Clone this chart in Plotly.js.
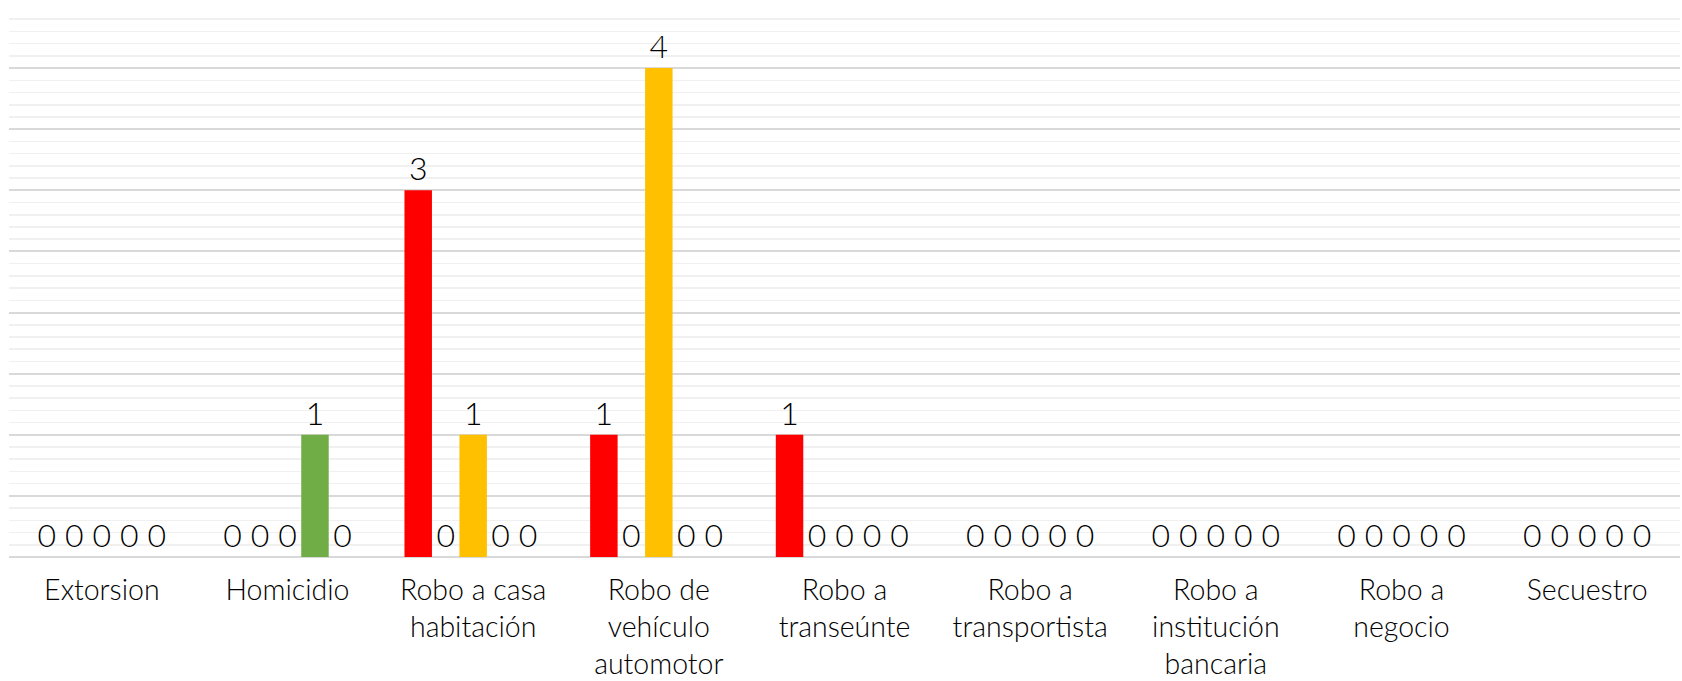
<!DOCTYPE html>
<html><head><meta charset="utf-8">
<script src="https://cdn.plot.ly/plotly-3.0.1.min.js"></script>
<style>html,body{margin:0;padding:0;background:#fff}</style>
</head><body><div id="chart" style="width:1682px;height:681px"></div>
<script>
const categories = ["Extorsion","Homicidio","Robo a casa habitación","Robo de vehículo automotor","Robo a transeúnte","Robo a transportista","Robo a institución bancaria","Robo a negocio","Secuestro"];
const tickLabels = ["Extorsion","Homicidio","Robo a casa<br>habitación","Robo de<br>vehículo<br>automotor","Robo a<br>transeúnte","Robo a<br>transportista","Robo a<br>institución<br>bancaria","Robo a<br>negocio","Secuestro"];
const seriesNames = ["Serie 1","Serie 2","Serie 3","Serie 4","Serie 5"];
const serie1 = [0,0,3,1,1,0,0,0,0];
const serie2 = [0,0,0,0,0,0,0,0,0];
const serie3 = [0,0,1,4,0,0,0,0,0];
const serie4 = [0,1,0,0,0,0,0,0,0];
const serie5 = [0,0,0,0,0,0,0,0,0];
const seriesValues = [serie1,serie2,serie3,serie4,serie5];
const seriesColors = ["#FF0000","#4472C4","#FFC000","#70AD47","#A5A5A5"];

const FONT = "Lato, 'Open Sans', sans-serif";
const traces = seriesValues.map((vals,i)=>({
  type:'bar', name:seriesNames[i], x:categories, y:vals,
  marker:{color:seriesColors[i], line:{width:0}},
  text: vals.map(String), textposition:'outside', cliponaxis:false,
  textfont:{family:FONT, size:32, color:'#000', weight:300},
  hoverinfo:'x+y'
}));

const layout = {
  width:1682, height:681,
  margin:{l:9,r:2,t:7,b:124},
  paper_bgcolor:'#fff', plot_bgcolor:'#fff',
  barmode:'group', bargap:0.26, bargroupgap:0,
  showlegend:false,
  font:{family:FONT, color:'#000', weight:300},
  xaxis:{type:'category', tickvals:categories, ticktext:tickLabels, range:[-0.5,8.5],
    showgrid:false, showline:false, zeroline:false, ticks:'', ticklabelstandoff:13,
    tickfont:{family:FONT, size:28.5, color:'#000', weight:300}},
  yaxis:{range:[0,4.5], dtick:0.5, tick0:0, showticklabels:false, ticks:'',
    showgrid:true, gridcolor:'#d9d9d9', gridwidth:2,
    zeroline:true, zerolinecolor:'#d9d9d9', zerolinewidth:2,
    minor:{dtick:0.1, showgrid:true, gridcolor:'#f0f0f0', gridwidth:1.5}}
};
Plotly.newPlot('chart', traces, layout, {displayModeBar:false, staticPlot:true});
</script></body></html>
